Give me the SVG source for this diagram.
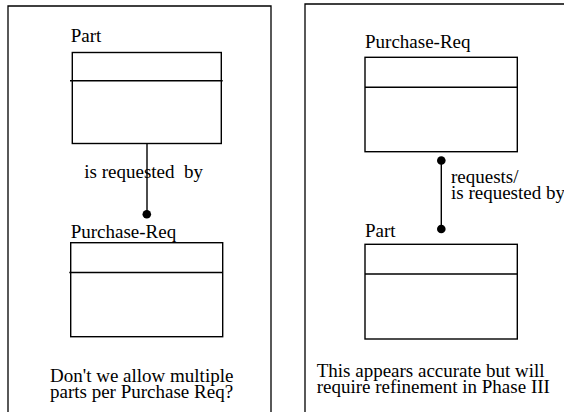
<svg xmlns="http://www.w3.org/2000/svg" width="564" height="412" viewBox="0 0 564 412">
<style>
text{font-size:19px;fill:#000;white-space:pre}
.frame{fill:none;stroke:#000;stroke-width:1.3}
.box{fill:#fff;stroke:#000;stroke-width:1.4}
.div{stroke:#000;stroke-width:1.4}
.conn{stroke:#000;stroke-width:1.4;fill:none}
.dot{fill:#000}
</style>
<rect width="564" height="412" fill="#fff"/>
<g font-family="'Liberation Serif', 'DejaVu Serif', serif">
<g id="frame-left"><path class="frame" d="M8,414 V6 H271 V414"/></g>
<g id="frame-right"><path class="frame" d="M305,414 V4 H566"/></g>

<g id="left-part">
<text x="70.7" y="42">Part</text>
<rect class="box" x="72.3" y="52.5" width="149" height="91"/>
<line class="div" x1="70" y1="80.7" x2="222.7" y2="80.7"/>
</g>
<g id="left-purchase-req">
<text x="70.7" y="238">Purchase-Req</text>
<rect class="box" x="70.7" y="242.7" width="152" height="94"/>
<line class="div" x1="69.3" y1="272.5" x2="222" y2="272.5"/>
</g>
<g id="right-purchase-req">
<text x="365" y="48">Purchase-Req</text>
<rect class="box" x="365" y="57.3" width="152.3" height="94.4"/>
<line class="div" x1="365" y1="87.3" x2="517" y2="87.3"/>
</g>
<g id="right-part">
<text x="365" y="237.3">Part</text>
<rect class="box" x="365" y="244.3" width="152.3" height="94.7"/>
<line class="div" x1="365" y1="274" x2="517" y2="274"/>
</g>

<g id="connectors">
<line class="conn" x1="147" y1="143.5" x2="147" y2="214.3"/>
<circle class="dot" cx="146.8" cy="214.3" r="4.3"/>
<line class="conn" x1="441.3" y1="160.5" x2="441.3" y2="229"/>
<circle class="dot" cx="441.3" cy="160.5" r="4.3"/>
<circle class="dot" cx="441.3" cy="229" r="4.3"/>
</g>

<g id="labels">
<text x="84.3" y="177.5">is requested  by</text>
<text x="451" y="183">requests/</text>
<text x="451" y="199">is requested by</text>
<text x="50" y="382">Don't we allow multiple</text>
<text x="50" y="397.5">parts per Purchase Req?</text>
<text x="316.7" y="377">This appears accurate but will</text>
<text x="316.7" y="392.5">require refinement in Phase III</text>
</g>
</g>
</svg>
